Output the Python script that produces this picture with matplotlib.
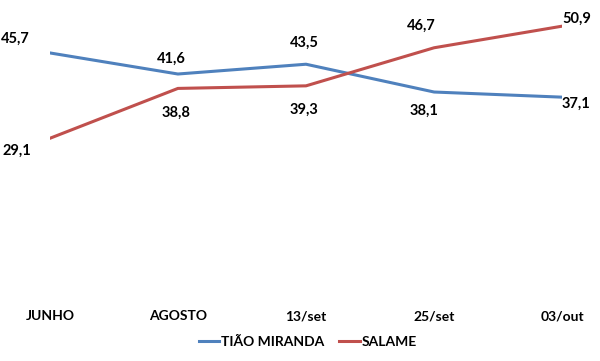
import matplotlib.pyplot as plt

plt.rcParams['font.family'] = ['Lato', 'DejaVu Sans']

categories = ['JUNHO', 'AGOSTO', '13/set', '25/set', '03/out']
tiao = [45.7, 41.6, 43.5, 38.1, 37.1]
salame = [29.1, 38.8, 39.3, 46.7, 50.9]

# label offsets in pixels (dx, dy) relative to each point
tiao_off = [(-35, 14), (-7, 15), (-2, 21), (-10, -19), (14, -7)]
salame_off = [(-33, -12), (-2, -24), (-2, -24), (-13, 22), (15, 7)]

blue = '#4F81BD'
red = '#C0504D'

fig = plt.figure(figsize=(6, 3.61), dpi=100)
ax = fig.add_axes([0.083, 0.202, 0.854, 0.784])

x = range(len(categories))
ax.plot(x, tiao, color=blue, linewidth=2.2, label='TIÃO MIRANDA')
ax.plot(x, salame, color=red, linewidth=2.2, label='SALAME')

def fmt(v):
    return f'{v:.1f}'.replace('.', ',')

for vals, offs in ((tiao, tiao_off), (salame, salame_off)):
    for i, (v, o) in enumerate(zip(vals, offs)):
        ax.annotate(fmt(v), (i, v), xytext=o, textcoords='offset pixels',
                    ha='center', va='center', fontsize=10.5, fontweight='bold')

ax.set_xlim(0, 4)
ax.set_ylim(0, 55)
ax.set_xticks(list(x))
ax.set_xticklabels(categories, fontsize=10, fontweight='bold')
ax.tick_params(axis='x', length=0, pad=16)
ax.set_yticks([])
for s in ax.spines.values():
    s.set_visible(False)

fig.legend(loc='center', bbox_to_anchor=(0.513, 1 - 342 / 361), ncol=2, frameon=False,
           prop={'size': 10, 'weight': 'bold'}, handlelength=1.45,
           handletextpad=0.15, columnspacing=1.1)

fig.savefig('out.png', dpi=100)
